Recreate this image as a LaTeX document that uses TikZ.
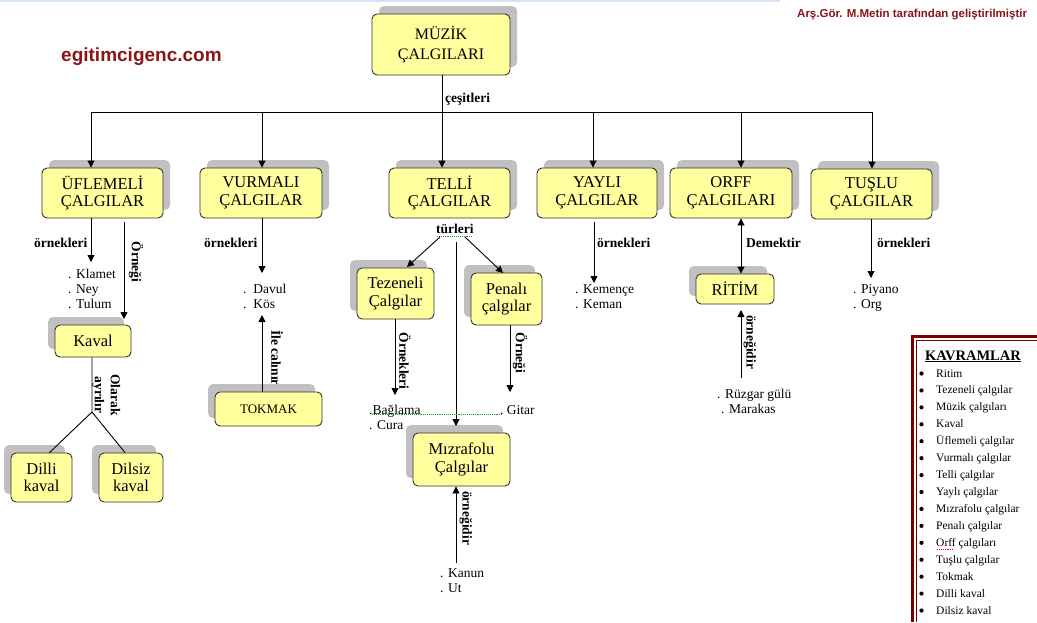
\documentclass[tikz,border=0pt]{standalone}
\usepackage{fontspec}
\setmainfont{Liberation Serif}
\newfontfamily\sansf{Liberation Sans}
\usetikzlibrary{arrows.meta,shadows,calc}
\definecolor{boxfill}{RGB}{255,255,158}
\definecolor{boxline}{RGB}{50,50,50}
\definecolor{shadowgray}{RGB}{192,192,192}
\definecolor{maroonred}{RGB}{120,0,0}
\definecolor{webred}{RGB}{140,22,22}
\definecolor{topblue}{RGB}{215,228,245}
\definecolor{spellgreen}{RGB}{40,150,40}
\begin{document}
\begin{tikzpicture}[x=1pt,y=-1pt,
  box/.style={draw=boxline, line width=0.9pt, fill=boxfill, rounded corners=5pt,
    align=center, inner sep=0pt, font=\fontsize{16.5}{17.5}\selectfont},
  boxR/.style={box, drop shadow={shadow xshift=7pt, shadow yshift=8pt, fill=shadowgray, opacity=1}},
  boxL/.style={box, drop shadow={shadow xshift=-7pt, shadow yshift=8pt, fill=shadowgray, opacity=1}},
  con/.style={draw=black, line width=0.9pt},
  arr/.style={con, -{Triangle[length=7pt,width=7pt]}},
  arrB/.style={con, {Triangle[length=7pt,width=7pt]}-{Triangle[length=7pt,width=7pt]}},
  lbl/.style={font=\bfseries\fontsize{13.5}{16}\selectfont, inner sep=0pt},
  vlbl/.style={lbl, rotate=-90, align=center},
  items/.style={font=\fontsize{13.5}{15}\selectfont, align=left, inner sep=0pt, anchor=north west},
  klist/.style={font=\fontsize{11.5}{14}\selectfont, inner sep=0pt, anchor=base west},
  spell/.style={densely dotted, line width=0.9pt}
]
\useasboundingbox (0,0) rectangle (1037,622);
\fill[white] (0,0) rectangle (1037,622);
\draw[topblue, line width=1.5pt] (0,0.75) -- (780,0.75);

% header texts
\node[inner sep=0pt, anchor=base west, text=webred, font=\sansf\bfseries\fontsize{19}{22}\selectfont] (web) at (61,61) {egitimcigenc.com};
\node[inner sep=0pt, anchor=base west, text=webred, font=\sansf\bfseries\fontsize{11.5}{13}\selectfont] (auth) at (797,17) {Arş.Gör. M.Metin tarafından geliştirilmiştir};

% rotated label behind tokmak shadow
\node[vlbl] (lcal) at (277,358) {İle calınır};

% top boxes
\node[boxR, minimum width=138pt, minimum height=61pt, font=\fontsize{16}{20}\selectfont] (muzik) at (441,44.5) {MÜZİK\\ÇALGILARI};
\node[boxR, minimum width=121pt, minimum height=50pt] (ufl) at (102.5,193) {ÜFLEMELİ\\ÇALGILAR};
\node[boxR, minimum width=122pt, minimum height=50pt] (vur) at (261,193) {VURMALI\\ÇALGILAR};
\node[boxR, minimum width=121pt, minimum height=50pt] (tel) at (449.5,193) {TELLİ\\ÇALGILAR};
\node[boxR, minimum width=120pt, minimum height=50pt] (yay) at (597,193) {YAYLI\\ÇALGILAR};
\node[boxR, minimum width=122pt, minimum height=50pt] (orf) at (731,193) {ORFF\\ÇALGILARI};
\node[boxR, minimum width=121pt, minimum height=50pt] (tus) at (871.5,194) {TUŞLU\\ÇALGILAR};

% lower boxes
\node[boxL, minimum width=76pt, minimum height=32pt] (kaval) at (93,341) {Kaval};
\node[boxL, minimum width=61pt, minimum height=49pt] (dilli) at (41.5,477.5) {Dilli\\kaval};
\node[boxL, minimum width=64pt, minimum height=49pt] (dilsiz) at (131,477.5) {Dilsiz\\kaval};
\node[boxL, minimum width=107pt, minimum height=34pt, font=\fontsize{13}{15}\selectfont] (tokmak) at (268.5,409) {TOKMAK};
\node[boxL, minimum width=77pt, minimum height=51pt] (tez) at (395.5,293.5) {Tezeneli\\Çalgılar};
\node[boxL, minimum width=71pt, minimum height=52pt] (pen) at (506.5,299) {Penalı\\çalgılar};
\node[boxL, minimum width=97pt, minimum height=53pt] (miz) at (461.5,459.5) {Mızrafolu\\Çalgılar};
\node[boxL, minimum width=78pt, minimum height=30pt] (ritim) at (735,289) {RİTİM};

% top bar
\coordinate (b1) at (91,112);
\coordinate (b2) at (262,112);
\coordinate (b3) at (442,112);
\coordinate (b4) at (593,112);
\coordinate (b5) at (741,112);
\coordinate (b6) at (872,112);
\draw[con] (b1) -- (b6);
\draw[arr] (muzik.south -| b3) -- (tel.north -| b3);
\draw[arr] (b1) -- (b1 |- ufl.north);
\draw[arr] (b2) -- (b2 |- vur.north);
\draw[arr] (b4) -- (b4 |- yay.north);
\draw[arr] (b5) -- (b5 |- orf.north);
\draw[arr] (b6) -- (b6 |- tus.north);
\node[lbl, anchor=base west] (lces) at (445,102) {çeşitleri};

% ÜFLEMELİ
\coordinate (u1) at (91,262);
\draw[arr] (u1 |- ufl.south) -- (u1);
\node[lbl, anchor=base west] (lu1) at (34,247) {örnekleri};
\node[items] (iu) at (68,269) {. Klamet\\. Ney\\. Tulum};
\coordinate (u2a) at (124,222);
\coordinate (u2b) at (124,319);
\draw[arr] (u2a) -- (u2b);
\node[vlbl] (lu2) at (136,262) {Örneği};
\coordinate (ks) at (92,412);
\draw[con] (ks |- kaval.south) -- (ks) -- ([xshift=8pt]dilli.north);
\draw[con] (ks) -- ([xshift=-6pt]dilsiz.north);
\node[vlbl] (lay) at (106,395) {Olarak\\ayrılır};

% VURMALI
\coordinate (v1) at (262,273);
\draw[arr] (v1 |- vur.south) -- (v1);
\node[lbl, anchor=base west] (lv1) at (204,247) {örnekleri};
\node[items] (iv) at (243,284) {.\ \ Davul\\.\ \ Kös};
\coordinate (t1) at (262,315);
\draw[arr] (t1 |- tokmak.north) -- (t1);

% TELLİ
\node[lbl, anchor=base west] (ltur) at (436,233) {türleri};
\draw[spell, spellgreen] (437,236) -- (473,236);
\coordinate (ta) at (440,237);
\coordinate (tb) at (407,267);
\draw[arr] (ta) -- (tb);
\coordinate (tc) at (465,237);
\coordinate (td) at (503,273);
\draw[arr] (tc) -- (td);
\coordinate (te) at (456,242);
\coordinate (tf) at (456,426);
\draw[arr] (te) -- (tf);
\coordinate (z1) at (395,395);
\draw[arr] (z1 |- tez.south) -- (z1);
\node[vlbl] (lz1) at (405,361) {Örnekleri};
\coordinate (p1) at (510,392);
\draw[arr] (p1 |- pen.south) -- (p1);
\node[vlbl] (lp1) at (520,353) {Örneği};
\node[items] (itz) at (369,405) {.Bağlama\\. Cura};
\node[items] (itp) at (500,405) {.\ Gitar};
\draw[spell, spellgreen] (372,414) -- (503,414);
\coordinate (m1) at (456,563);
\draw[arr] (m1) -- (m1 |- miz.south);
\node[vlbl] (lm1) at (466,518) {örneğidir};
\node[items] (im) at (440,568) {. Kanun\\. Ut};

% YAYLI
\coordinate (y1a) at (594,222);
\coordinate (y1b) at (594,283);
\draw[arr] (y1a) -- (y1b);
\node[lbl, anchor=base west] (ly1) at (597,247) {örnekleri};
\node[items] (iy) at (575,284) {. Kemençe\\. Keman};

% ORFF
\coordinate (o1) at (741,250);
\draw[arrB] (o1 |- orf.south) -- (o1 |- ritim.north);
\node[lbl, anchor=base west] (lo1) at (746,247) {Demektir};
\coordinate (r1) at (741,378);
\coordinate (r2) at (741,310);
\draw[arr] (r1) -- (r2);
\node[vlbl] (lr1) at (750,342) {örneğidir};
\node[items] (ir) at (717,389) {. Rüzgar gülü\\\hspace*{4pt}. Marakas};

% TUŞLU
\coordinate (s1) at (871,278);
\draw[arr] (s1 |- tus.south) -- (s1);
\node[lbl, anchor=base west] (ls1) at (877,247) {örnekleri};
\node[items] (is) at (853,284) {. Piyano\\. Org};

% KAVRAMLAR
\draw[maroonred, line width=2.5pt] (912.5,622) -- (912.5,336.5) -- (1037,336.5);
\draw[maroonred, line width=0.6pt] (916.3,622) -- (916.3,340.3) -- (1037,340.3);
\node[inner sep=0pt, anchor=base west, font=\bfseries\fontsize{14.5}{16}\selectfont] (kt) at (925,360) {\underline{KAVRAMLAR}};
\foreach \t [count=\i from 0] in {Ritim, Tezeneli çalgılar, Müzik çalgıları, Kaval, Üflemeli çalgılar, Vurmalı çalgılar, Telli çalgılar, Yaylı çalgılar, Mızrafolu çalgılar, Penalı çalgılar, Orff çalgıları, Tuşlu çalgılar, Tokmak, Dilli kaval, Dilsiz kaval}{
  \fill (921.5,{373.5+16.93*\i}) circle (2.1pt);
  \node[klist] (kv\i) at (936,{377+16.93*\i}) {\t};
}
\draw[spell, red] (937,549) -- (953,549);
\end{tikzpicture}
\end{document}
